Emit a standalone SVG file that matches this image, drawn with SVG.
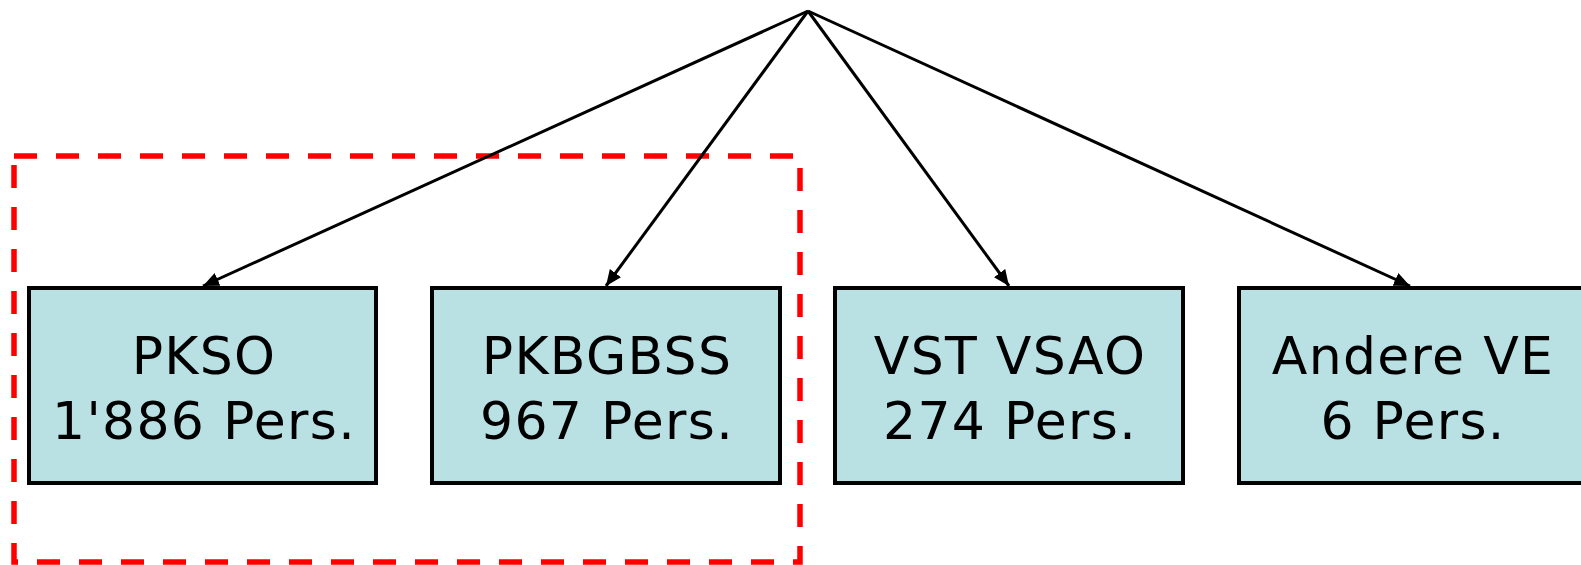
<svg xmlns="http://www.w3.org/2000/svg" width="1581" height="565" viewBox="0 0 1581 565">
  <style>
    .box { fill: #B9E0E3; stroke: #000; stroke-width: 4; }
    .lbl { font-family: "DejaVu Sans", Verdana, sans-serif; font-size: 52px; letter-spacing: 1.3px; fill: #000; text-anchor: middle; }
    .conn { stroke: #000; stroke-width: 3; fill: none; marker-end: url(#arrow); }
    .group { fill: none; stroke: #FF0000; stroke-width: 5.5; stroke-dasharray: 23 19; }
  </style>
  <defs>
    <marker id="arrow" viewBox="0 0 16 14" refX="16" refY="7" markerWidth="16" markerHeight="14" markerUnits="userSpaceOnUse" orient="auto">
      <path d="M0,0 L16,7 L0,14 z" fill="#000"/>
    </marker>
  </defs>
  <rect width="1581" height="565" fill="#fff"/>

  <g id="group-frame">
    <rect class="group" x="14" y="156" width="786" height="406"/>
  </g>

  <g id="connectors">
    <line class="conn" x1="808" y1="11" x2="203" y2="286"/>
    <line class="conn" x1="808" y1="11" x2="606" y2="286"/>
    <line class="conn" x1="808" y1="11" x2="1009" y2="286"/>
    <line class="conn" x1="808" y1="11" x2="1410" y2="286"/>
  </g>

  <g id="node-pkso">
    <rect class="box" x="29" y="288" width="347" height="195"/>
    <text class="lbl" x="204" y="374">PKSO</text>
    <text class="lbl" x="204" y="439">1'886 Pers.</text>
  </g>
  <g id="node-pkbgbss">
    <rect class="box" x="432" y="288" width="348" height="195"/>
    <text class="lbl" x="607" y="374">PKBGBSS</text>
    <text class="lbl" x="607" y="439">967 Pers.</text>
  </g>
  <g id="node-vst-vsao">
    <rect class="box" x="835" y="288" width="348" height="195"/>
    <text class="lbl" x="1010" y="374">VST VSAO</text>
    <text class="lbl" x="1010" y="439">274 Pers.</text>
  </g>
  <g id="node-andere-ve">
    <rect class="box" x="1239" y="288" width="348" height="195"/>
    <text class="lbl" x="1413" y="374">Andere VE</text>
    <text class="lbl" x="1413" y="439">6 Pers.</text>
  </g>
</svg>
